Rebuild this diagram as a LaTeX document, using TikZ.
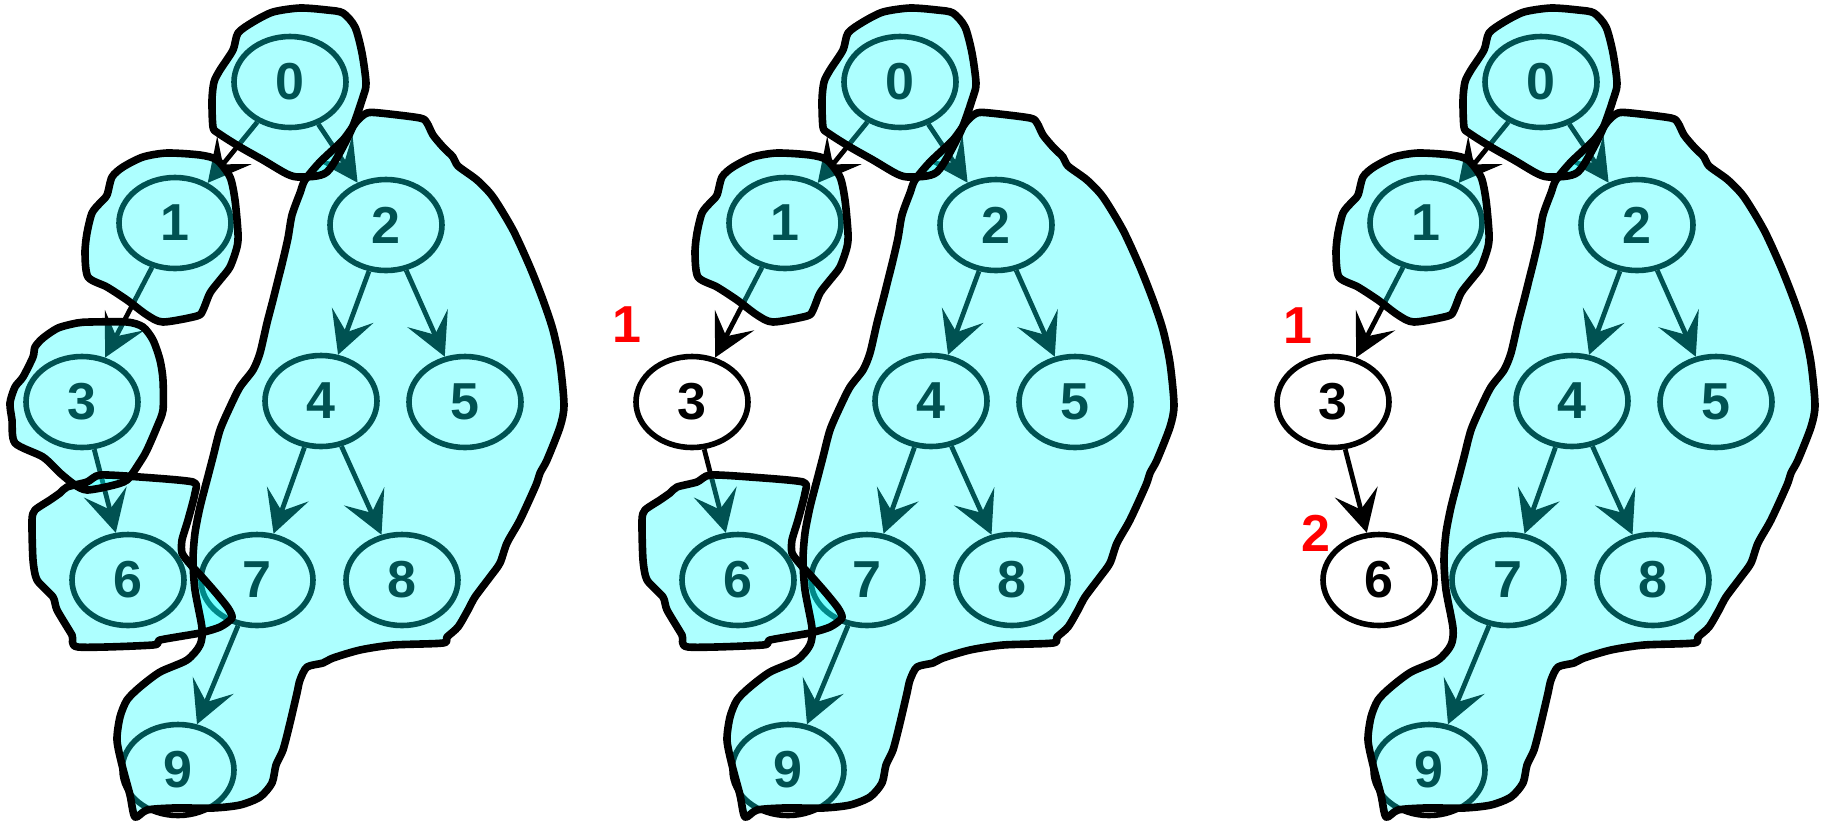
\documentclass[tikz,border=0pt]{standalone}
\usepackage{fontspec}
\setmainfont{Liberation Sans}
\usetikzlibrary{arrows.meta,shapes.geometric}
\definecolor{blobcyan}{RGB}{0,255,255}
\definecolor{labred}{RGB}{255,0,0}
\tikzset{
  gnode/.style={draw=black, line width=2.8pt, ellipse, inner sep=0pt,
    minimum width=56pt, minimum height=45.5pt,
    font=\fontsize{26}{30}\selectfont\bfseries},
  edge/.style={draw=black, line width=2.4pt,
    -{Stealth[length=21pt,width=22pt,inset=9pt]}},
  blobfill/.style={fill=blobcyan, fill opacity=0.32},
  blobline/.style={draw=black, line width=3.8pt, line join=round},
  redlab/.style={text=labred, inner sep=0pt, font=\fontsize{26}{30}\selectfont\bfseries}
}
\newcommand\graphpanel[1]{%
  \node[gnode] (#1n0) at (290,82) {0};
  \node[gnode] (#1n1) at (175,223) {1};
  \node[gnode] (#1n2) at (386,225) {2};
  \node[gnode] (#1n3) at (82,402) {3};
  \node[gnode] (#1n4) at (321,401) {4};
  \node[gnode] (#1n5) at (465,402) {5};
  \node[gnode] (#1n6) at (128,580) {6};
  \node[gnode] (#1n7) at (257,580) {7};
  \node[gnode] (#1n8) at (402,580) {8};
  \node[gnode] (#1n9) at (178,770) {9};
  \draw[edge] (#1n0) -- (#1n1);
  \draw[edge] (#1n0) -- (#1n2);
  \draw[edge] (#1n1) -- (#1n3);
  \draw[edge] (#1n2) -- (#1n4);
  \draw[edge] (#1n2) -- (#1n5);
  \draw[edge] (#1n3) -- (#1n6);
  \draw[edge] (#1n4) -- (#1n7);
  \draw[edge] (#1n4) -- (#1n8);
  \draw[edge] (#1n7) -- (#1n9);
}
\newcommand\blobA[1]{\path[#1] plot[smooth cycle, tension=0.45] coordinates {
  (300,8) (273,12) (253,22) (238,33) (233,50) (220,70) (214,82) (212,100) (213,127)
  (218,133) (240,147) (263,160) (287,174) (300,177) (327,172) (350,133) (363,97)
  (366,83) (362,53) (355,27) (343,13) (327,10)};}
\newcommand\blobB[1]{\path[#1] plot[smooth cycle, tension=0.45] coordinates {
  (167,153) (200,155) (217,160) (230,177) (235,200) (238,233) (237,247) (230,267)
  (220,280) (210,293) (203,310) (197,316) (163,322) (147,315) (127,300) (107,287)
  (88,277) (85,253) (87,233) (92,213) (100,203) (107,195) (112,177) (123,167) (143,157)};}
\newcommand\blobC[1]{\path[#1] plot[smooth cycle, tension=0.45] coordinates {
  (90,322) (127,322) (143,327) (153,340) (160,360) (163,380) (163,410) (157,427)
  (147,450) (140,462) (127,480) (110,486) (87,490) (75,485) (60,473) (43,457)
  (15,443) (12,420) (10,403) (15,387) (23,377) (33,357) (35,347) (43,338) (58,328) (77,323)};}
\newcommand\blobD[1]{\path[#1] plot[smooth cycle, tension=0.4] coordinates {
  (87,482) (100,475) (140,477) (193,482) (195,493) (188,520) (182,540) (182,553)
  (190,564) (202,577) (216,593) (228,608) (232,618) (220,627) (200,633) (160,640)
  (153,645) (78,647) (72,635) (57,610) (53,597) (37,580) (33,560) (32,520) (35,510)
  (50,500) (60,493) (67,487)};}
\newcommand\blobE[1]{\path[#1] plot[smooth cycle, tension=0.45] coordinates {
  (367,113) (380,113) (420,118) (427,123) (433,135) (443,147) (453,157) (458,166)
  (477,180) (493,197) (513,230) (530,267) (543,300) (553,330) (560,363) (564,405)
  (560,427) (547,460) (540,473) (536,485) (520,520) (507,543) (500,563) (490,577)
  (475,597) (468,610) (458,627) (447,637) (443,643) (393,645) (360,650) (333,658)
  (323,663) (307,667) (300,680) (297,693) (290,723) (283,750) (276,765) (272,783)
  (260,797) (240,805) (213,808) (173,808) (147,810) (135,817) (130,795) (122,765)
  (117,740) (120,717) (127,700) (140,687) (160,672) (187,660) (200,645) (202,628)
  (195,590) (193,560) (195,533) (200,507) (207,480) (213,457) (220,430) (230,407)
  (240,387) (253,370) (260,353) (267,323) (273,300) (278,280) (283,260) (288,238)
  (292,215) (300,193) (305,180) (320,162) (343,140) (357,121)};}
\begin{document}
\begin{tikzpicture}[x=0.5pt, y=-0.5pt]
  \useasboundingbox (0,0) rectangle (1822,821);
  % panel 1
  \begin{scope}
    \graphpanel{a}
    \blobA{blobfill}\blobB{blobfill}\blobC{blobfill}\blobD{blobfill}\blobE{blobfill}
    \blobA{blobline}\blobB{blobline}\blobC{blobline}\blobD{blobline}\blobE{blobline}
  \end{scope}
  % panel 2
  \begin{scope}[shift={(610,0)}]
    \graphpanel{b}
    \blobA{blobfill}\blobB{blobfill}\blobD{blobfill}\blobE{blobfill}
    \blobA{blobline}\blobB{blobline}\blobD{blobline}\blobE{blobline}
    \node[redlab] (blab1) at (17,325) {1};
  \end{scope}
  % panel 3
  \begin{scope}[shift={(1251,0)}]
    \graphpanel{c}
    \blobA{blobfill}\blobB{blobfill}\blobE{blobfill}
    \blobA{blobline}\blobB{blobline}\blobE{blobline}
    \node[redlab] (clab1) at (47,326) {1};
    \node[redlab] (clab2) at (65,533) {2};
  \end{scope}
\end{tikzpicture}
\end{document}
